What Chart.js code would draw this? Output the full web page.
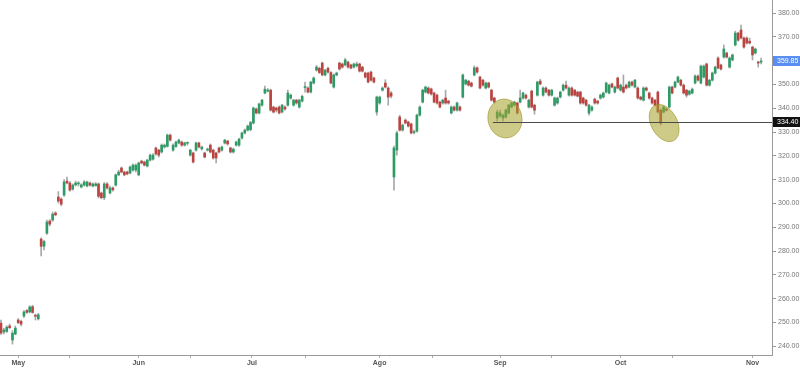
<!DOCTYPE html>
<html lang="es">
<head>
<meta charset="utf-8">
<title>Velas</title>
<script src="https://cdn.jsdelivr.net/npm/chart.js@4"></script>
<style>
  html, body { margin: 0; padding: 0; background: #fff; }
</style>
</head>
<body>
<canvas id="grafica-velas" width="800" height="368"></canvas>
<script>
// Velas (apertura, máximo, mínimo, cierre), una por índice
const apertura = [
    249.7, 246, 246.2, 248.5, 242.6, 245.1, 251, 250.4, 252.7, 255,
    254.4, 256.6, 252.8, 251.5, 285, 282, 287.5, 292.6, 293, 296,
    302.7, 301.8, 303.5, 309.4, 308.6, 306, 307.8, 308.2, 306.9, 307.7,
    307.3, 308.6, 307.3, 307.5, 308.2, 304.4, 302.4, 308.2, 304.4, 306.5,
    307.7, 312, 314.9, 313.2, 313.2, 312.8, 314, 314, 312, 317.8,
    317.4, 315.7, 318.2, 318.6, 323.3, 322.4, 321.6, 323.7, 324, 328.7,
    322.4, 323.9, 325.4, 325.8, 324.5, 325.3, 320.3, 321.2, 322.4, 325.4,
    322.9, 321.2, 322.4, 324.5, 322.4, 321.2, 323.3, 322.4, 325.4, 326.2,
    323.3, 321.6, 324.5, 324.5, 327.5, 329.6, 330.8, 331, 333.8, 339.7,
    338, 341.3, 346.4, 347.2, 347.6, 340.5, 340.1, 340.5, 338.4, 340.5,
    341.3, 344.3, 341.3, 343.4, 340.5, 343, 348.7, 348.5, 346.8, 350.6,
    356, 356.8, 359, 354, 356.8, 355, 348.9, 354, 359, 358.6,
    358.2, 359.4, 358.2, 357.3, 357.8, 358.6, 357.3, 354.8, 354.8, 355.2,
    352.7, 338.4, 342.2, 347.6, 350.6, 348.5, 346.4, 311.1, 322.4, 336.3,
    330.8, 335, 334.2, 333.4, 329.8, 330.4, 337.1, 342.6, 346.8, 348.5,
    348.1, 346.4, 345.5, 342.6, 342.2, 344.3, 343, 338, 340.5, 339.2,
    340.5, 344.7, 350.2, 351.4, 350.6, 354, 357, 353.1, 351.8, 348.5,
    350.6, 347.6, 344.3, 335.9, 336.7, 335.9, 336.3, 338, 340.5, 341.3,
    342.2, 342.6, 344.3, 345.5, 340.5, 347.2, 341.3, 345.5, 351.4, 345.5,
    348.5, 347.6, 345.5, 341.3, 342.2, 344.7, 347.6, 349.7, 345.5, 348.5,
    347.6, 346.8, 346.8, 344.3, 343.4, 338, 339.2, 343.8, 343, 344.3,
    344.7, 346.8, 346.4, 350.2, 346.8, 352.7, 347.6, 348.9, 349.7, 348.9,
    351, 348.9, 348.5, 344.7, 343.4, 348.5, 346.4, 344.3, 343.4, 346.8,
    339.2, 338.4, 339.7, 340.5, 348.9, 348.9, 351, 351.8, 349.7, 347.6,
    345.9, 346.4, 350.6, 353.5, 350.6, 353.1, 358.6, 349.7, 351.8, 354.8,
    361.1, 358.2, 361.5, 363.2, 357.3, 360.3, 366.6, 371.6, 372.9, 369.5,
    369.5, 368.2, 365.7, 363.2, 359.4, 359.4
]
const maximo = [
    251, 247.5, 248.6, 249.3, 246.5, 248.5, 251.6, 251, 255, 255.4,
    257, 257.2, 253.5, 253.8, 285.5, 284.5, 293, 293.2, 296.4, 296.5,
    305, 302.4, 310, 311.1, 309.2, 308.2, 309.4, 309.2, 308.3, 309.6,
    309.4, 309, 308.6, 308.8, 308.6, 304.8, 308.8, 308.8, 307.3, 307,
    312.4, 314, 315.3, 313.6, 313.6, 315.7, 316.6, 316.6, 317.4, 318.2,
    317.8, 318.6, 320.7, 321, 323.7, 322.8, 325, 325, 329.2, 329.2,
    325, 326.2, 327, 326.2, 325.8, 325.8, 322.8, 321.6, 325.8, 325.8,
    324.1, 321.6, 323.3, 325, 322.8, 321.6, 323.7, 324.1, 327, 326.6,
    323.7, 323.3, 326.2, 327.5, 330, 331.3, 333, 334.5, 340.5, 340.1,
    342.2, 343.8, 349.3, 348.3, 348, 340.9, 340.5, 341, 341.7, 341,
    347.6, 346, 343.8, 343.8, 343.8, 345.5, 351, 349, 351.4, 353.2,
    358, 357.3, 359.4, 356.4, 357.3, 355.4, 354.4, 355.2, 359.4, 359,
    361, 359.8, 358.6, 359, 359.4, 359, 357.7, 355.2, 355.2, 355.6,
    353.1, 345.1, 345.1, 349, 352, 349, 347, 324.1, 330.4, 337.1,
    333.4, 335.5, 334.6, 333.8, 330.8, 337.6, 341, 348, 349.3, 349,
    348.5, 346.8, 346, 343, 343.8, 347.6, 343.4, 341, 341, 342.6,
    341, 354.4, 352.2, 351.8, 351, 357.8, 357.4, 353.5, 352.2, 351,
    351, 348, 344.7, 339.2, 339.2, 337.6, 339.7, 341.7, 342.6, 343,
    342.6, 347.6, 346.8, 346, 343.8, 347.6, 341.7, 351.4, 352.2, 349,
    349, 348, 348, 344.7, 344.7, 347.2, 350.2, 351.4, 349, 349,
    348, 347.2, 347.2, 344.7, 343.8, 341.7, 341, 344.3, 343.4, 346,
    346.8, 351, 350.2, 350.6, 349.3, 353.1, 350.2, 354, 350.2, 351.4,
    351.4, 352.2, 349, 345.1, 349, 349, 346.8, 344.7, 343.8, 347.2,
    339.7, 341, 340.1, 349.3, 349.3, 351.4, 353.5, 352.2, 350.2, 348,
    347.6, 348.5, 354, 354, 358.2, 358.2, 359, 352.2, 355.2, 357.7,
    361.6, 358.6, 366.6, 363.6, 361.6, 362.8, 372.4, 372, 375, 370,
    370, 369.5, 366.1, 365.3, 359.8, 361.1
]
const minimo = [
    245, 245.2, 245.8, 247.4, 240.9, 244.8, 249.5, 248.5, 252, 253.8,
    254, 253.8, 251, 251, 277.9, 280.5, 287, 290.5, 292.5, 294.8,
    300.2, 299, 303, 308.2, 305.2, 305.6, 307.3, 307.3, 306.5, 307.3,
    306.9, 307.3, 306.9, 307.2, 302.3, 301.9, 301.6, 306, 304, 305.2,
    307.3, 311.6, 312.8, 311.6, 312, 312.4, 313.6, 313.2, 311.6, 316.6,
    315.7, 315.3, 317.8, 318.2, 320.3, 319.5, 321.2, 323.3, 323.7, 326.2,
    322, 323.5, 325, 324, 324.1, 324.5, 319.9, 317, 322, 323.3,
    322.4, 319.1, 322, 321.2, 318.6, 317, 321.2, 322, 325, 324.5,
    321.2, 321.2, 324.1, 324, 327, 329.2, 330.4, 330.5, 333.4, 337.6,
    337.6, 340.9, 346, 346.8, 338.8, 338, 338.4, 337.6, 338, 339.2,
    340.9, 343.8, 340.9, 341.7, 340.1, 342.6, 346.8, 346.4, 346.4, 350.2,
    355.6, 354.6, 353.6, 353.6, 354.8, 350.2, 348.5, 353.6, 356, 356.8,
    357.8, 356.9, 356.5, 356.9, 357.3, 355.2, 355.2, 352.7, 350.6, 351.4,
    350.6, 337.1, 341.7, 347.2, 348.5, 341.3, 344.3, 305.6, 320.3, 330.4,
    330.4, 333.4, 332.1, 329.2, 329.2, 330, 336.7, 342.2, 346.4, 346,
    345.5, 342.2, 341.7, 340.1, 341.7, 341.7, 341.7, 337.6, 338.8, 338.8,
    338.8, 344.3, 349.8, 349.3, 348.9, 353.6, 354.8, 348.1, 349.3, 348.1,
    348.5, 343, 342.2, 334.6, 336.3, 334.6, 335.9, 337.6, 340.1, 340.9,
    337.6, 342.2, 343.8, 343.8, 340.1, 340.1, 337.5, 345.1, 349.8, 345.1,
    346.4, 345.1, 345.1, 340.9, 341.7, 344.3, 347.2, 348.1, 345.1, 345.1,
    345.1, 344.7, 341.7, 341.7, 340.9, 337.1, 338.8, 341.7, 341.7, 343.8,
    344.3, 346.4, 346, 348.5, 346.4, 348.1, 347.2, 346.4, 348.1, 348.5,
    349.3, 348.5, 343.8, 343.4, 343, 347.2, 343.8, 341.7, 340.9, 338,
    332.9, 338, 338.8, 340.1, 346, 348.5, 350.6, 349.3, 346, 344.7,
    345.5, 346, 350.2, 351.4, 350.2, 352.7, 349.3, 349.3, 351.4, 354.4,
    356.5, 356, 361.1, 361.1, 356.9, 359.9, 366.2, 368.2, 369.1, 365.3,
    367, 367, 360.3, 362.8, 357.3, 358.6
]
const cierre = [
    245.5, 246.8, 248, 247.8, 245.5, 247.6, 249.9, 249.3, 254.4, 254.2,
    256.5, 254.2, 252.6, 253.2, 282, 284, 292.2, 291.3, 295.5, 295.2,
    301, 299.7, 309, 308.6, 305.6, 307.7, 308.6, 308.3, 307.8, 309,
    309, 307.7, 308.2, 308.2, 303, 302.4, 308.2, 306.5, 306.5, 305.7,
    312, 313.2, 313.2, 312, 312.4, 315.3, 316.1, 316.1, 317, 317,
    316.1, 318.2, 320.3, 320.3, 320.8, 320.3, 324.5, 324.5, 328.7, 326.6,
    324.5, 325.8, 326.6, 324.5, 325.4, 325.4, 322.4, 317.4, 325.4, 323.7,
    323.7, 319.5, 322.8, 321.6, 319.1, 319.1, 321.6, 323.7, 326.6, 325,
    321.6, 322.8, 325.8, 327, 329.6, 330.8, 332.5, 334, 340.1, 338,
    341.8, 343.4, 348, 347.6, 339.2, 338.4, 339.2, 338, 341.3, 339.7,
    346.4, 345.5, 343.4, 342.2, 343.4, 345, 349, 346.8, 351, 352.7,
    357.3, 355, 354, 356, 355.2, 350.6, 354, 354.8, 356.5, 357.3,
    360.3, 357.3, 356.9, 358.6, 358.6, 355.6, 355.6, 353.1, 351, 351.8,
    351, 344.7, 344.7, 348.5, 348.9, 344.7, 345.1, 323.3, 329.6, 330.8,
    332.9, 333.8, 332.5, 329.6, 330, 337.1, 340.5, 347.6, 348.9, 346.4,
    346, 342.6, 342.2, 340.5, 343.4, 342.2, 342.2, 340.5, 339.2, 342.2,
    339.2, 354, 351.8, 349.7, 349.3, 357, 355.2, 348.5, 349.7, 350.6,
    348.9, 343.4, 342.6, 338.4, 338, 337.1, 339.2, 341.3, 342.2, 342.6,
    338, 344.3, 346.4, 344.3, 343.4, 340.5, 339.2, 351, 350.2, 348.5,
    346.8, 345.5, 347.6, 344.3, 344.3, 346.8, 349.7, 348.5, 348.5, 345.5,
    345.5, 345.1, 342.2, 342.2, 341.3, 341.3, 340.5, 342.2, 342.2, 345.5,
    346.4, 350.6, 349.7, 348.9, 348.9, 348.5, 349.7, 346.8, 348.5, 351,
    349.7, 351.8, 344.3, 343.8, 348.5, 347.6, 344.3, 342.2, 341.3, 338.4,
    333.8, 340.5, 339.2, 348.9, 346.4, 351, 353.1, 349.7, 346.4, 345.5,
    347.2, 348, 353.5, 351.8, 357.7, 357.7, 349.7, 351.8, 354.8, 357.3,
    356.9, 356.5, 364.9, 361.5, 361.1, 362.4, 371.6, 368.6, 369.5, 365.7,
    367.4, 367.4, 362.4, 364.9, 359, 359.85
]

// Eje X: índice de vela donde empieza cada marca y su texto
const posicionesMes = [6, 24, 48, 66, 87.5, 106, 132, 150.5, 174, 192, 216, 234, 262]
const nombresMes = ["May", "", "Jun", "", "Jul", "", "Ago", "", "Sep", "", "Oct", "", "Nov"]

// Eje Y
const marcasPrecio = [240, 250, 260, 270, 280, 290, 300, 310, 320, 330, 340, 350, 360, 370, 380]

// Soporte y zonas marcadas: [índice de vela, precio]
const nivelSoporte = 334.40
const inicioSoporte = 171.5
const zonas = [[175.7, 335.7], [231.2, 333.8]]

const verde = "#2e9b66"
const rojo = "#bb4340"

const anotaciones = {
    id: "anotaciones",
    afterDatasetsDraw(chart) {
        const { ctx, chartArea, scales: { x, y } } = chart
        ctx.save()

        // Elipses amarillas
        const formas = [{ rx: 17, ry: 19.5, giro: -0.2 }, { rx: 13, ry: 20, giro: -0.5 }]
        zonas.forEach((zona, i) => {
            ctx.beginPath()
            ctx.ellipse(x.getPixelForValue(zona[0]), y.getPixelForValue(zona[1]),
                formas[i].rx, formas[i].ry, formas[i].giro, 0, Math.PI * 2)
            ctx.fillStyle = "rgba(165, 160, 40, 0.55)"
            ctx.fill()
            ctx.lineWidth = 1
            ctx.strokeStyle = "rgba(150, 145, 30, 0.6)"
            ctx.stroke()
        })

        // Línea de soporte
        const ySoporte = Math.round(y.getPixelForValue(nivelSoporte)) + 0.5
        ctx.strokeStyle = "#4a4a4a"
        ctx.lineWidth = 1
        ctx.beginPath()
        ctx.moveTo(x.getPixelForValue(inicioSoporte), ySoporte)
        ctx.lineTo(chartArea.right, ySoporte)
        ctx.stroke()
        ctx.restore()
    },
    afterDraw(chart) {
        // Etiquetas de precio sobre el eje
        const { ctx, chartArea, scales: { y } } = chart
        const etiquetas = [
            { valor: cierre[cierre.length - 1], fondo: "#5a8ef0" },
            { valor: nivelSoporte, fondo: "#111111" }
        ]
        ctx.save()
        ctx.font = "7px 'Liberation Sans', Arial, sans-serif"
        ctx.textBaseline = "middle"
        etiquetas.forEach(e => {
            const py = Math.round(y.getPixelForValue(e.valor))
            ctx.fillStyle = e.fondo
            ctx.fillRect(chartArea.right + 1, py - 5, 28, 10)
            ctx.fillStyle = "#ffffff"
            ctx.fillText(e.valor.toFixed(2), chartArea.right + 5, py + 0.5)
        })
        ctx.restore()
    }
}

const mechas = apertura.map((v, i) => ({ x: i, y: [minimo[i], maximo[i]] }))
const cuerpos = apertura.map((v, i) => ({ x: i, y: [apertura[i], cierre[i]] }))
const colores = apertura.map((v, i) => cierre[i] >= apertura[i] ? verde : rojo)

Chart.defaults.font.family = "'Liberation Sans', Arial, sans-serif"

new Chart(document.getElementById("grafica-velas"), {
    type: "bar",
    data: {
        datasets: [
            {
                label: "Cuerpos",
                data: cuerpos,
                backgroundColor: colores,
                barThickness: 2,
                minBarLength: 1,
                grouped: false,
                order: 0
            },
            {
                label: "Mechas",
                data: mechas,
                backgroundColor: "#a3aaa7",
                barThickness: 1,
                grouped: false,
                order: 1
            }
        ]
    },
    options: {
        responsive: false,
        animation: false,
        devicePixelRatio: 1,
        layout: { padding: 0 },
        plugins: { legend: { display: false }, tooltip: { enabled: false } },
        scales: {
            x: {
                type: "linear",
                min: -0.35,
                max: 268.8,
                offset: false,
                bounds: "data",
                grid: { offset: false, drawOnChartArea: false, tickLength: 3, color: "#aaaaaa" },
                border: { color: "#999999" },
                afterBuildTicks: escala => { escala.ticks = posicionesMes.map(v => ({ value: v })) },
                afterFit: escala => {
                    escala.height = 13
                    escala.paddingLeft = 0
                    escala.paddingRight = 0
                },
                ticks: {
                    autoSkip: false,
                    maxRotation: 0,
                    padding: 1,
                    color: "#555555",
                    font: { size: 7, weight: "bold" },
                    callback: (v, i) => nombresMes[i]
                }
            },
            y: {
                position: "right",
                min: 236.3,
                max: 385.5,
                beginAtZero: false,
                bounds: "data",
                grid: { drawOnChartArea: false, tickLength: 4, color: "#999999" },
                border: { color: "#999999" },
                afterBuildTicks: escala => { escala.ticks = marcasPrecio.map(v => ({ value: v })) },
                afterFit: escala => {
                    escala.width = 28
                    escala.paddingTop = 0
                    escala.paddingBottom = 0
                },
                ticks: {
                    padding: 2,
                    color: "#777777",
                    font: { size: 7 },
                    callback: v => v.toFixed(2)
                }
            }
        }
    },
    plugins: [anotaciones]
})
</script>
</body>
</html>
